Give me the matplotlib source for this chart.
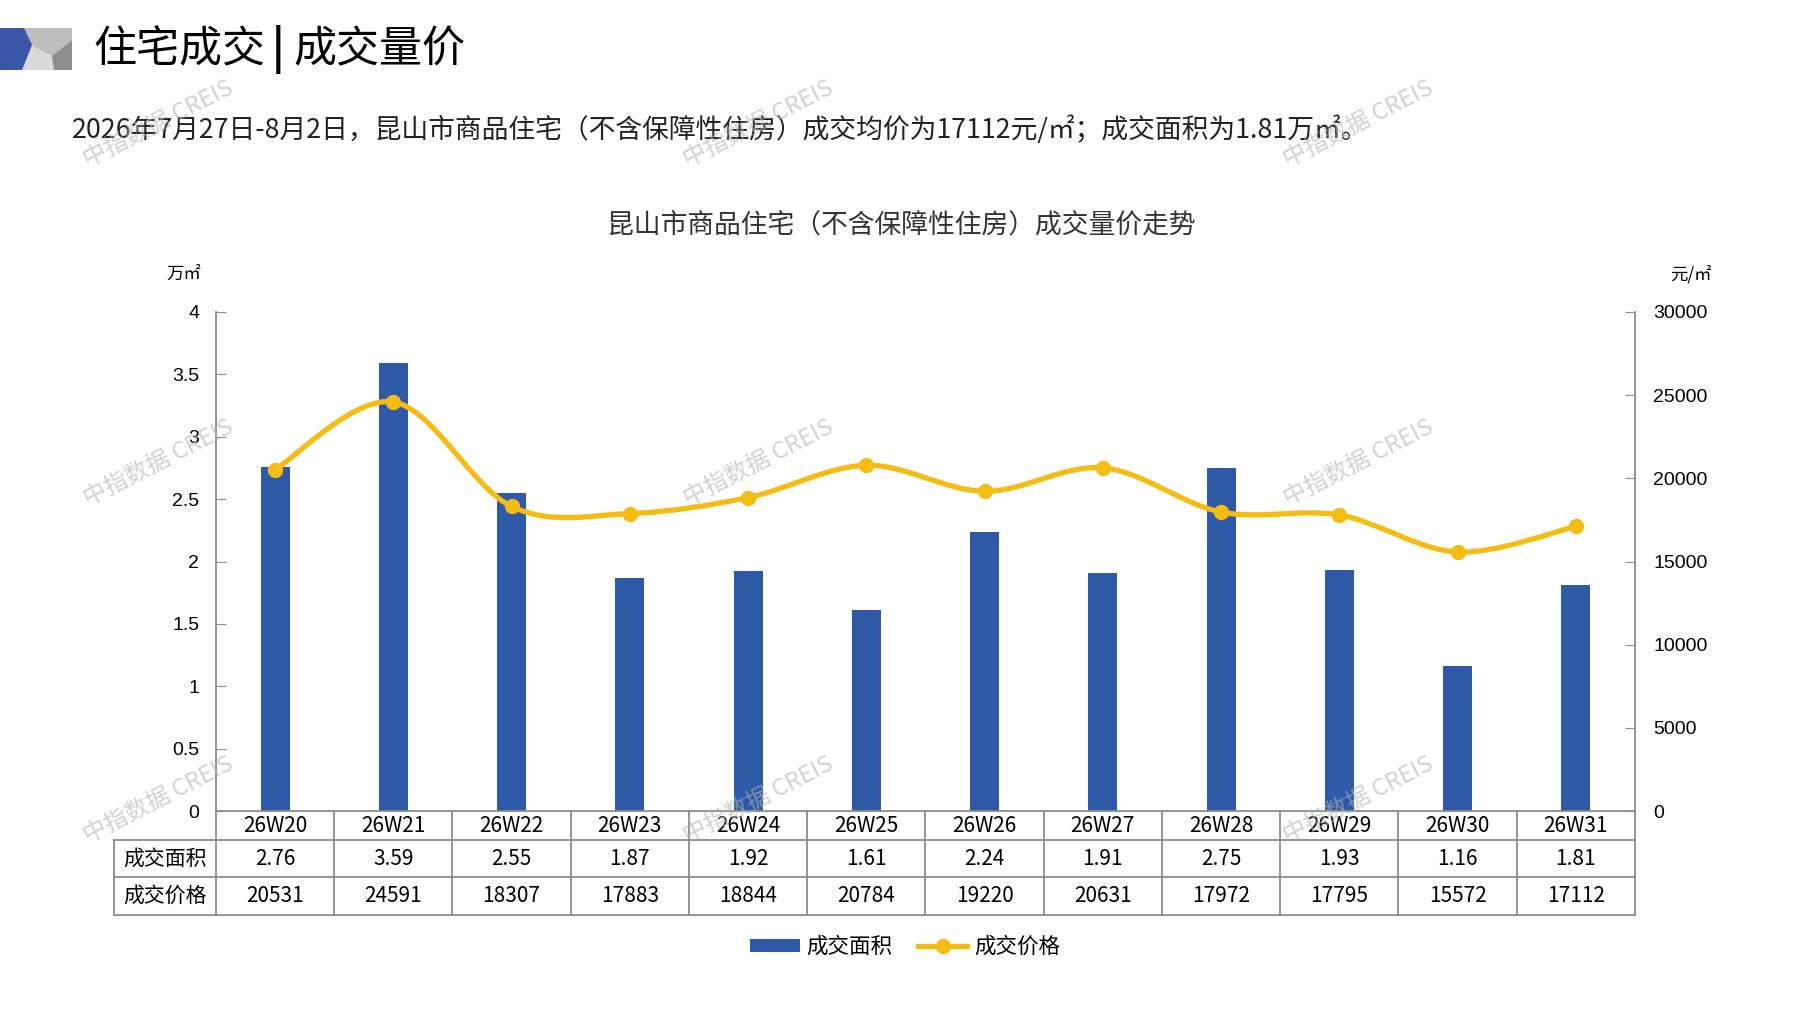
import numpy as np
import matplotlib
matplotlib.use('Agg')
from matplotlib import pyplot as plt
from matplotlib.path import Path
from matplotlib.patches import PathPatch, Polygon, Patch
from matplotlib.lines import Line2D
from matplotlib.transforms import blended_transform_factory

plt.rcParams['font.family'] = ['Noto Sans CJK SC', 'DejaVu Sans']

# data
weeks = ['26W20', '26W21', '26W22', '26W23', '26W24', '26W25',
         '26W26', '26W27', '26W28', '26W29', '26W30', '26W31']
area = [2.76, 3.59, 2.55, 1.87, 1.92, 1.61, 2.24, 1.91, 2.75, 1.93, 1.16, 1.81]
price = [20531, 24591, 18307, 17883, 18844, 20784, 19220, 20631, 17972, 17795, 15572, 17112]
area_ticks = [0, 0.5, 1, 1.5, 2, 2.5, 3, 3.5, 4]
price_ticks = [0, 5000, 10000, 15000, 20000, 25000, 30000]

BLUE = '#2E5AA7'
GOLD = '#F5BC14'
GREY = '#8C8C8C'
W, H = 1797, 1010
num_font = ['Liberation Sans Narrow', 'Noto Sans CJK SC']


def fx(x):
    return x / W


def fy(y):
    return 1 - y / H


fig = plt.figure(figsize=(W / 100, H / 100), dpi=100)

# header logo
logo = [
    ([(0, 28), (72, 28), (72, 70), (0, 70)], '#DADADA'),
    ([(24, 28), (72, 28), (72, 40), (52, 56), (31, 45)], '#BDBDBD'),
    ([(72, 40), (72, 70), (54, 70), (52, 56)], '#8E8E8E'),
    ([(0, 28), (24, 28), (32, 45), (22, 70), (0, 70)], '#3A56A6'),
]
for pts, c in logo:
    fig.patches.append(Polygon([(fx(a), fy(b)) for a, b in pts], closed=True,
                               facecolor=c, edgecolor='none',
                               transform=fig.transFigure))

fig.text(fx(93), fy(50), '住宅成交', fontsize=31, va='center', ha='left')
fig.text(fx(278), fy(50), '|', fontsize=31, va='center', ha='center', fontweight='bold')
fig.text(fx(293), fy(50), '成交量价', fontsize=31, va='center', ha='left')

fig.text(fx(72), fy(130),
         '2026年7月27日-8月2日，昆山市商品住宅（不含保障性住房）成交均价为17112元/㎡；成交面积为1.81万㎡。',
         fontsize=19.3, va='center', ha='left', color='#222222')

fig.text(fx(901), fy(225), '昆山市商品住宅（不含保障性住房）成交量价走势',
         fontsize=19.3, va='center', ha='center', color='#333333')

fig.text(fx(184), fy(274), '万㎡', fontsize=12.5, va='center', ha='center')
fig.text(fx(1691), fy(274), '元/㎡', fontsize=12.5, va='center', ha='center')

# main axes
ax = fig.add_axes([fx(216), fy(811), (1635 - 216) / W, (811 - 312) / H])
xs = np.arange(len(weeks))
ax.bar(xs, area, width=0.245, color=BLUE, zorder=2)
ax.set_xlim(-0.5, len(weeks) - 0.5)
ax.set_ylim(0, 4)
ax.set_yticks(area_ticks)
ax.set_yticklabels([f'{t:g}' for t in area_ticks], family='Liberation Sans', fontsize=14)
ax.set_xticks([])
for s in ['top', 'right']:
    ax.spines[s].set_visible(False)
for s in ['left', 'bottom']:
    ax.spines[s].set_color(GREY)
    ax.spines[s].set_linewidth(1.3)
ax.tick_params(axis='y', direction='in', length=7, color=GREY, pad=12)

ax2 = ax.twinx()
ax2.set_ylim(0, 30000)
ax2.set_yticks(price_ticks)
ax2.set_yticklabels([str(t) for t in price_ticks], family='Liberation Sans', fontsize=14)
for s in ['top', 'left', 'bottom']:
    ax2.spines[s].set_visible(False)
ax2.spines['right'].set_color(GREY)
ax2.spines['right'].set_linewidth(1.3)
ax2.tick_params(axis='y', direction='in', length=7, color=GREY, pad=13)

# smoothed price line (Catmull-Rom style bezier through the points)
pts = np.column_stack([xs, price]).astype(float)
verts = [pts[0]]
codes = [Path.MOVETO]
n = len(pts)
for i in range(n - 1):
    p0 = pts[i - 1] if i > 0 else pts[i]
    p1 = pts[i]
    p2 = pts[i + 1]
    p3 = pts[i + 2] if i + 2 < n else pts[i + 1]
    verts += [p1 + (p2 - p0) / 6, p2 - (p3 - p1) / 6, p2]
    codes += [Path.CURVE4] * 3
ax2.add_patch(PathPatch(Path(verts, codes), facecolor='none', edgecolor=GOLD,
                        lw=3.8, capstyle='round', zorder=3))
ax2.plot(xs, price, 'o', ms=10, color=GOLD, zorder=4)

# data table under the chart
tr = blended_transform_factory(ax.transData, fig.transFigure)
x_left = -0.5 - (216 - 114) / 118.25
x_right = len(weeks) - 0.5
line_kw = dict(color=GREY, lw=1.3, transform=tr, clip_on=False)
for yy in [840, 877, 915]:
    ax.plot([x_left, x_right], [fy(yy), fy(yy)], **line_kw)
for i in range(len(weeks) + 1):
    ax.plot([i - 0.5, i - 0.5], [fy(811), fy(915)], **line_kw)
ax.plot([x_left, x_left], [fy(840), fy(915)], **line_kw)

for i, w in enumerate(weeks):
    ax.text(i, fy(826), w, transform=tr, ha='center', va='center', fontsize=15, family=num_font)
    ax.text(i, fy(859), f'{area[i]:.2f}', transform=tr, ha='center', va='center', fontsize=15, family=num_font)
    ax.text(i, fy(896), str(price[i]), transform=tr, ha='center', va='center', fontsize=15, family=num_font)
xh = (x_left - 0.5) / 2
ax.text(xh, fy(859), '成交面积', transform=tr, ha='center', va='center', fontsize=15)
ax.text(xh, fy(896), '成交价格', transform=tr, ha='center', va='center', fontsize=15)

# legend
handles = [Patch(facecolor=BLUE, edgecolor='none'),
           Line2D([0], [0], color=GOLD, lw=3.8, marker='o', ms=10)]
fig.legend(handles, ['成交面积', '成交价格'], loc='center', bbox_to_anchor=(fx(905), fy(947)),
           ncol=2, frameon=False, fontsize=15.5, handlelength=2.3, handleheight=0.55,
           handletextpad=0.3, columnspacing=1.2)

# watermarks
for wx in [158, 758, 1358]:
    for wy in [124, 463, 800]:
        fig.text(fx(wx), fy(wy), '中指数据 CREIS', fontsize=17, rotation=27,
                 ha='center', va='center', color='#B4B4B4', alpha=0.6, zorder=10)

fig.savefig('out.png', dpi=100)
